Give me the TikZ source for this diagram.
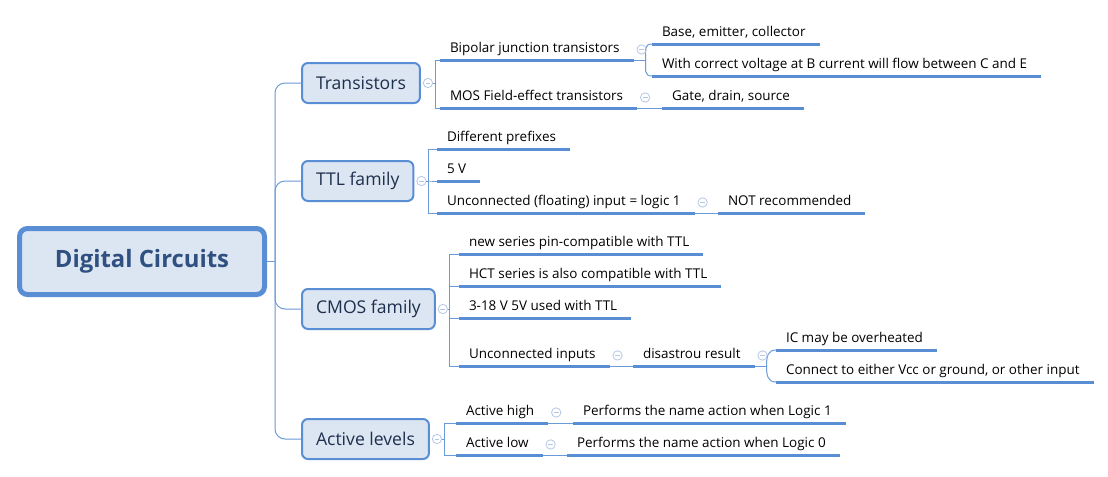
\documentclass[tikz,border=0pt]{standalone}
\usepackage{fontspec}
\setmainfont{Open Sans}
\usetikzlibrary{calc}

\definecolor{boxfill}{HTML}{DCE6F2}
\definecolor{boxline}{HTML}{5A8ED4}
\definecolor{roottext}{HTML}{2F5080}
\definecolor{topictext}{HTML}{1E2F4D}
\definecolor{linkline}{HTML}{6A9AD8}
\definecolor{markline}{HTML}{B3C6E6}

\tikzset{
  root/.style={draw=boxline, line width=3.75pt, fill=boxfill, rounded corners=6pt,
    minimum width=183.75pt, minimum height=49.5pt, text=roottext,
    font=\fontsize{17.9}{21}\selectfont\bfseries},
  topic/.style={draw=boxline, line width=1.5pt, fill=boxfill, rounded corners=4.5pt,
    minimum height=30pt, inner xsep=10.5pt, anchor=west, text=topictext,
    font=\fontsize{13.2}{16}\selectfont},
  leaf/.style={anchor=south west, outer sep=0pt, inner xsep=7.5pt, inner ysep=3pt,
    text height=7.5pt, text depth=2.3pt, execute at end node={\hspace{3pt}},
    font=\fontsize{10.1}{12}\selectfont},
  link/.style={draw=linkline, line width=0.75pt},
  uline/.style={draw=boxline, line width=2.25pt},
  marker/.style={circle, draw=markline, line width=0.6pt, minimum size=7pt, inner sep=0pt,
    path picture={\draw[markline, line width=0.6pt]
      ([xshift=-1.8pt]path picture bounding box.center) --
      ([xshift=1.8pt]path picture bounding box.center);}},
}

\begin{document}
\begin{tikzpicture}[x=0.75pt, y=-0.75pt]
  \useasboundingbox (0,0) rectangle (1108,476);
  % central topic and main branches
  \node[root] (dc) at (142,261.5) {Digital Circuits};
  \node[topic] (trans) at (301,83) {Transistors};
  \node[topic] (ttl) at (301,181) {TTL family};
  \node[topic] (cmos) at (301,309) {CMOS family};
  \node[topic] (act) at (301,439) {Active levels};
  \coordinate (hub) at ($(dc.east)+(8,0)$);
  \draw[link] (dc.east) -- (hub);
  \foreach \t in {trans,ttl,cmos,act}{
    \draw[link, rounded corners=7.5pt] (hub) |- (\t.west);
    \node[marker] (m\t) at ($(\t.east)+(7,0)$) {};
  }

  % transistors
  \node[leaf] (bjt) at (440,60) {Bipolar junction transistors};
  \node[leaf] (mos) at (440,108) {MOS Field-effect transistors};
  \node[leaf] (base) at (652,44) {Base, emitter, collector};
  \node[leaf] (volt) at (652,76) {With correct voltage at B current will flow between C and E};
  \node[leaf] (gate) at (662,108) {Gate, drain, source};
  \draw[link] (mtrans.east) -- ++(2,0) |- (bjt.south west);
  \draw[link] (mtrans.east) -- ++(2,0) |- (mos.south west);
  \draw[link] (bjt.south east) -- ++(12,0) coordinate (bjtfork);
  \draw[link] (bjtfork) .. controls +(0,-10) and +(-8,0) .. (base.south west);
  \draw[link] (bjtfork) .. controls +(0,10) and +(-8,0) .. (volt.south west);
  \draw[link] (mos.south east) -- (gate.south west);

  % TTL family
  \node[leaf] (pref) at (437,149) {Different prefixes};
  \node[leaf] (fivev) at (437,181) {5 V};
  \node[leaf] (float) at (437,213) {Unconnected (floating) input = logic 1};
  \node[leaf] (notrec) at (718,213) {NOT recommended};
  \foreach \n in {pref,fivev,float}
    \draw[link] (mttl.east) -- ++(2,0) |- (\n.south west);
  \draw[link] (float.south east) -- (notrec.south west);

  % CMOS family
  \node[leaf] (pin) at (459,254) {new series pin-compatible with TTL};
  \node[leaf] (hct) at (459,286) {HCT series is also compatible with TTL};
  \node[leaf] (range) at (459,318) {3-18 V 5V used with TTL};
  \node[leaf] (uncon) at (459,366) {Unconnected inputs};
  \node[leaf] (disas) at (633,366) {disastrou result};
  \node[leaf] (heat) at (776,350) {IC may be overheated};
  \node[leaf] (vcc) at (776,382) {Connect to either Vcc or ground, or other input};
  \foreach \n in {pin,hct,range,uncon}
    \draw[link] (mcmos.east) -- ++(2,0) |- (\n.south west);
  \draw[link] (uncon.south east) -- (disas.south west);
  \draw[link] (disas.south east) -- ++(12,0) coordinate (disfork);
  \draw[link] (disfork) .. controls +(0,-10) and +(-8,0) .. (heat.south west);
  \draw[link] (disfork) .. controls +(0,10) and +(-8,0) .. (vcc.south west);

  % active levels
  \node[leaf] (high) at (456,423) {Active high};
  \node[leaf] (perf1) at (573,423) {Performs the name action when Logic 1};
  \node[leaf] (low) at (456,455) {Active low};
  \node[leaf] (perf0) at (567,455) {Performs the name action when Logic 0};
  \foreach \n in {high,low}
    \draw[link] (mact.east) -- ++(2,0) |- (\n.south west);
  \draw[link] (high.south east) -- (perf1.south west);
  \draw[link] (low.south east) -- (perf0.south west);

  % collapse markers on the leaves
  \foreach \n in {bjt,mos,float,uncon,disas,high,low}
    \node[marker] (m\n) at ($(\n.east)+(8,0)$) {};
  % underlines
  \foreach \n in {bjt,mos,base,volt,gate,pref,fivev,float,notrec,pin,hct,range,uncon,disas,heat,vcc,high,perf1,low,perf0}
    \draw[uline] (\n.south west) -- (\n.south east);
\end{tikzpicture}
\end{document}
